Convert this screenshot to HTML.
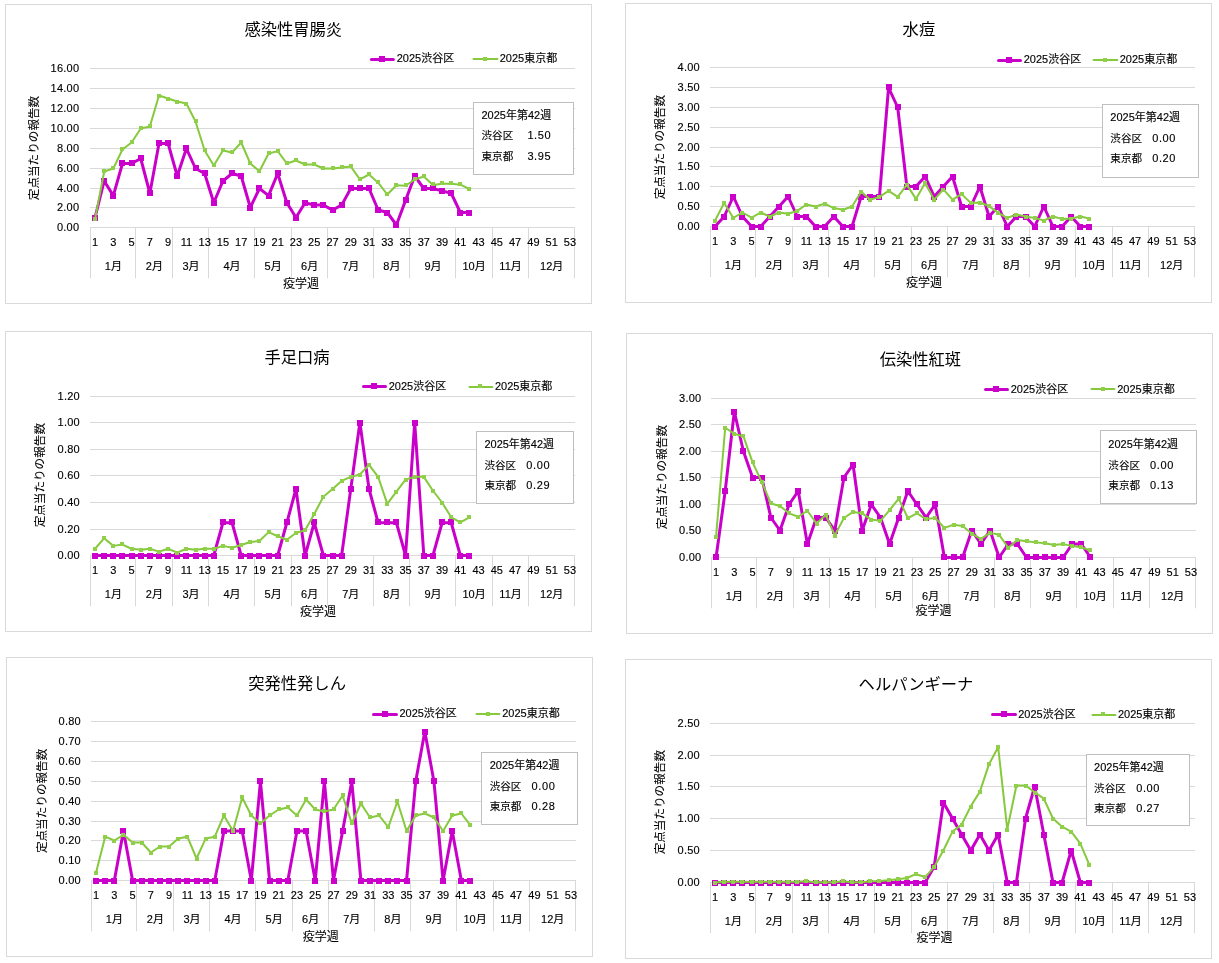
<!DOCTYPE html>
<html lang="ja">
<head>
<meta charset="utf-8">
<title>感染症発生動向 定点当たりの報告数</title>
<style>
html,body{margin:0;padding:0;background:#fff;}
body{width:1219px;height:963px;overflow:hidden;}
svg{display:block;}
svg text{font-family:"Liberation Sans", "Noto Sans CJK JP", sans-serif;fill:#000000;stroke:#000000;stroke-width:0.14px;stroke-linejoin:round;}
svg text.t{stroke:none;}
svg text.n{letter-spacing:0.25px;}
svg text.v{letter-spacing:0.6px;}
svg text.a{stroke-width:0.08px;}
</style>
</head>
<body>
<svg width="1219" height="963" viewBox="0 0 1219 963">
<rect x="0" y="0" width="1219" height="963" fill="#ffffff"/>
<g><rect x="5.5" y="4.5" width="586" height="299" fill="#fff" stroke="#D9D9D9" stroke-width="1"/>
<line x1="90" y1="227.5" x2="575" y2="227.5" stroke="#D9D9D9" stroke-width="1"/>
<text x="79.3" y="231" text-anchor="end" font-size="11.0" class="n">0.00</text>
<line x1="90" y1="207.5" x2="575" y2="207.5" stroke="#D9D9D9" stroke-width="1"/>
<text x="79.3" y="211" text-anchor="end" font-size="11.0" class="n">2.00</text>
<line x1="90" y1="188.5" x2="575" y2="188.5" stroke="#D9D9D9" stroke-width="1"/>
<text x="79.3" y="192" text-anchor="end" font-size="11.0" class="n">4.00</text>
<line x1="90" y1="168.5" x2="575" y2="168.5" stroke="#D9D9D9" stroke-width="1"/>
<text x="79.3" y="172" text-anchor="end" font-size="11.0" class="n">6.00</text>
<line x1="90" y1="148.5" x2="575" y2="148.5" stroke="#D9D9D9" stroke-width="1"/>
<text x="79.3" y="152" text-anchor="end" font-size="11.0" class="n">8.00</text>
<line x1="90" y1="128.5" x2="575" y2="128.5" stroke="#D9D9D9" stroke-width="1"/>
<text x="79.3" y="132" text-anchor="end" font-size="11.0" class="n">10.00</text>
<line x1="90" y1="108.5" x2="575" y2="108.5" stroke="#D9D9D9" stroke-width="1"/>
<text x="79.3" y="112" text-anchor="end" font-size="11.0" class="n">12.00</text>
<line x1="90" y1="88.5" x2="575" y2="88.5" stroke="#D9D9D9" stroke-width="1"/>
<text x="79.3" y="92" text-anchor="end" font-size="11.0" class="n">14.00</text>
<line x1="90" y1="68.5" x2="575" y2="68.5" stroke="#D9D9D9" stroke-width="1"/>
<text x="79.3" y="72" text-anchor="end" font-size="11.0" class="n">16.00</text>
<line x1="90.5" y1="227.5" x2="90.5" y2="278.3" stroke="#D9D9D9" stroke-width="1"/>
<line x1="135.5" y1="227.5" x2="135.5" y2="278.3" stroke="#D9D9D9" stroke-width="1"/>
<line x1="172.5" y1="227.5" x2="172.5" y2="278.3" stroke="#D9D9D9" stroke-width="1"/>
<line x1="208.5" y1="227.5" x2="208.5" y2="278.3" stroke="#D9D9D9" stroke-width="1"/>
<line x1="254.5" y1="227.5" x2="254.5" y2="278.3" stroke="#D9D9D9" stroke-width="1"/>
<line x1="291.5" y1="227.5" x2="291.5" y2="278.3" stroke="#D9D9D9" stroke-width="1"/>
<line x1="327.5" y1="227.5" x2="327.5" y2="278.3" stroke="#D9D9D9" stroke-width="1"/>
<line x1="373.5" y1="227.5" x2="373.5" y2="278.3" stroke="#D9D9D9" stroke-width="1"/>
<line x1="409.5" y1="227.5" x2="409.5" y2="278.3" stroke="#D9D9D9" stroke-width="1"/>
<line x1="455.5" y1="227.5" x2="455.5" y2="278.3" stroke="#D9D9D9" stroke-width="1"/>
<line x1="492.5" y1="227.5" x2="492.5" y2="278.3" stroke="#D9D9D9" stroke-width="1"/>
<line x1="528.5" y1="227.5" x2="528.5" y2="278.3" stroke="#D9D9D9" stroke-width="1"/>
<line x1="574.5" y1="227.5" x2="574.5" y2="278.3" stroke="#D9D9D9" stroke-width="1"/>
<text x="95.07" y="246.1" text-anchor="middle" font-size="11.0">1</text>
<text x="113.33" y="246.1" text-anchor="middle" font-size="11.0">3</text>
<text x="131.59" y="246.1" text-anchor="middle" font-size="11.0">5</text>
<text x="149.86" y="246.1" text-anchor="middle" font-size="11.0">7</text>
<text x="168.12" y="246.1" text-anchor="middle" font-size="11.0">9</text>
<text x="186.39" y="246.1" text-anchor="middle" font-size="11.0">11</text>
<text x="204.65" y="246.1" text-anchor="middle" font-size="11.0">13</text>
<text x="222.92" y="246.1" text-anchor="middle" font-size="11.0">15</text>
<text x="241.18" y="246.1" text-anchor="middle" font-size="11.0">17</text>
<text x="259.44" y="246.1" text-anchor="middle" font-size="11.0">19</text>
<text x="277.71" y="246.1" text-anchor="middle" font-size="11.0">21</text>
<text x="295.97" y="246.1" text-anchor="middle" font-size="11.0">23</text>
<text x="314.24" y="246.1" text-anchor="middle" font-size="11.0">25</text>
<text x="332.5" y="246.1" text-anchor="middle" font-size="11.0">27</text>
<text x="350.76" y="246.1" text-anchor="middle" font-size="11.0">29</text>
<text x="369.03" y="246.1" text-anchor="middle" font-size="11.0">31</text>
<text x="387.29" y="246.1" text-anchor="middle" font-size="11.0">33</text>
<text x="405.56" y="246.1" text-anchor="middle" font-size="11.0">35</text>
<text x="423.82" y="246.1" text-anchor="middle" font-size="11.0">37</text>
<text x="442.08" y="246.1" text-anchor="middle" font-size="11.0">39</text>
<text x="460.35" y="246.1" text-anchor="middle" font-size="11.0">41</text>
<text x="478.61" y="246.1" text-anchor="middle" font-size="11.0">43</text>
<text x="496.88" y="246.1" text-anchor="middle" font-size="11.0">45</text>
<text x="515.14" y="246.1" text-anchor="middle" font-size="11.0">47</text>
<text x="533.41" y="246.1" text-anchor="middle" font-size="11.0">49</text>
<text x="551.67" y="246.1" text-anchor="middle" font-size="11.0">51</text>
<text x="569.93" y="246.1" text-anchor="middle" font-size="11.0">53</text>
<text x="113.33" y="270.3" text-anchor="middle" font-size="11.0">1月</text>
<text x="154.42" y="270.3" text-anchor="middle" font-size="11.0">2月</text>
<text x="190.95" y="270.3" text-anchor="middle" font-size="11.0">3月</text>
<text x="232.05" y="270.3" text-anchor="middle" font-size="11.0">4月</text>
<text x="273.14" y="270.3" text-anchor="middle" font-size="11.0">5月</text>
<text x="309.67" y="270.3" text-anchor="middle" font-size="11.0">6月</text>
<text x="350.76" y="270.3" text-anchor="middle" font-size="11.0">7月</text>
<text x="391.86" y="270.3" text-anchor="middle" font-size="11.0">8月</text>
<text x="432.95" y="270.3" text-anchor="middle" font-size="11.0">9月</text>
<text x="474.05" y="270.3" text-anchor="middle" font-size="11.0">10月</text>
<text x="510.58" y="270.3" text-anchor="middle" font-size="11.0">11月</text>
<text x="551.67" y="270.3" text-anchor="middle" font-size="11.0">12月</text>
<text x="301" y="288.4" text-anchor="middle" font-size="12.0" class="a">疫学週</text>
<text transform="translate(38.2,148) rotate(-90)" text-anchor="middle" font-size="11.6" class="a">定点当たりの報告数</text>
<text x="293.3" y="34.8" text-anchor="middle" font-size="16.3" class="t">感染性胃腸炎</text>
<polyline fill="none" stroke="#C900C9" stroke-width="3" stroke-linejoin="round" stroke-linecap="round" points="95.07,217.5 104.2,181 113.33,195.62 122.46,163.5 131.59,163.5 140.73,158.5 149.86,193.25 158.99,143.5 168.12,143.5 177.25,176 186.39,148.5 195.52,168.5 204.65,173.5 213.78,202.75 222.92,181 232.05,173.5 241.18,176 250.31,207.5 259.44,188.5 268.58,195.62 277.71,173.5 286.84,202.75 295.97,217.5 305.1,202.75 314.24,205.12 323.37,205.12 332.5,210 341.63,205.12 350.76,188.5 359.9,188.5 369.03,188.5 378.16,210 387.29,212.5 396.42,225 405.56,200.38 414.69,176 423.82,188.5 432.95,188.5 442.08,190.88 451.22,193.25 460.35,212.5 469.48,212.5"/><g fill="#CC00CC"><rect x="92" y="215" width="6" height="6"/><rect x="101" y="178" width="6" height="6"/><rect x="110" y="193" width="6" height="6"/><rect x="119" y="160" width="6" height="6"/><rect x="129" y="160" width="6" height="6"/><rect x="138" y="155" width="6" height="6"/><rect x="147" y="190" width="6" height="6"/><rect x="156" y="140" width="6" height="6"/><rect x="165" y="140" width="6" height="6"/><rect x="174" y="173" width="6" height="6"/><rect x="183" y="145" width="6" height="6"/><rect x="193" y="165" width="6" height="6"/><rect x="202" y="170" width="6" height="6"/><rect x="211" y="200" width="6" height="6"/><rect x="220" y="178" width="6" height="6"/><rect x="229" y="170" width="6" height="6"/><rect x="238" y="173" width="6" height="6"/><rect x="247" y="205" width="6" height="6"/><rect x="256" y="185" width="6" height="6"/><rect x="266" y="193" width="6" height="6"/><rect x="275" y="170" width="6" height="6"/><rect x="284" y="200" width="6" height="6"/><rect x="293" y="215" width="6" height="6"/><rect x="302" y="200" width="6" height="6"/><rect x="311" y="202" width="6" height="6"/><rect x="320" y="202" width="6" height="6"/><rect x="330" y="207" width="6" height="6"/><rect x="339" y="202" width="6" height="6"/><rect x="348" y="185" width="6" height="6"/><rect x="357" y="185" width="6" height="6"/><rect x="366" y="185" width="6" height="6"/><rect x="375" y="207" width="6" height="6"/><rect x="384" y="210" width="6" height="6"/><rect x="393" y="222" width="6" height="6"/><rect x="403" y="197" width="6" height="6"/><rect x="412" y="173" width="6" height="6"/><rect x="421" y="185" width="6" height="6"/><rect x="430" y="185" width="6" height="6"/><rect x="439" y="188" width="6" height="6"/><rect x="448" y="190" width="6" height="6"/><rect x="457" y="210" width="6" height="6"/><rect x="466" y="210" width="6" height="6"/></g>
<polyline fill="none" stroke="#86C93D" stroke-width="2" stroke-linejoin="round" stroke-linecap="round" points="95.07,219 104.2,171.5 113.33,168.5 122.46,149.5 131.59,142.5 140.73,128.5 149.86,126.5 158.99,95.5 168.12,98.5 177.25,101.5 186.39,103.5 195.52,121.5 204.65,150.5 213.78,165.5 222.92,150.5 232.05,152.5 241.18,142.5 250.31,163.5 259.44,171.3 268.58,153.5 277.71,151.1 286.84,163.5 295.97,160.5 305.1,164.5 314.24,164.5 323.37,168.5 332.5,168.5 341.63,167.5 350.76,166.5 359.9,179.3 369.03,174.5 378.16,182.7 387.29,194.49 396.42,185.3 405.56,185.8 414.69,179.5 423.82,176.5 432.95,184.9 442.08,183.7 451.22,183.7 460.35,184.7 469.48,188.97"/><g fill="#8FCF4A"><rect x="93" y="217" width="4" height="4"/><rect x="102" y="169" width="4" height="4"/><rect x="111" y="166" width="4" height="4"/><rect x="120" y="147" width="4" height="4"/><rect x="130" y="140" width="4" height="4"/><rect x="139" y="126" width="4" height="4"/><rect x="148" y="124" width="4" height="4"/><rect x="157" y="94" width="4" height="4"/><rect x="166" y="97" width="4" height="4"/><rect x="175" y="100" width="4" height="4"/><rect x="184" y="102" width="4" height="4"/><rect x="194" y="119" width="4" height="4"/><rect x="203" y="148" width="4" height="4"/><rect x="212" y="163" width="4" height="4"/><rect x="221" y="148" width="4" height="4"/><rect x="230" y="150" width="4" height="4"/><rect x="239" y="140" width="4" height="4"/><rect x="248" y="161" width="4" height="4"/><rect x="257" y="169" width="4" height="4"/><rect x="267" y="151" width="4" height="4"/><rect x="276" y="149" width="4" height="4"/><rect x="285" y="161" width="4" height="4"/><rect x="294" y="158" width="4" height="4"/><rect x="303" y="162" width="4" height="4"/><rect x="312" y="162" width="4" height="4"/><rect x="321" y="166" width="4" height="4"/><rect x="331" y="166" width="4" height="4"/><rect x="340" y="165" width="4" height="4"/><rect x="349" y="164" width="4" height="4"/><rect x="358" y="177" width="4" height="4"/><rect x="367" y="172" width="4" height="4"/><rect x="376" y="180" width="4" height="4"/><rect x="385" y="192" width="4" height="4"/><rect x="394" y="183" width="4" height="4"/><rect x="404" y="183" width="4" height="4"/><rect x="413" y="177" width="4" height="4"/><rect x="422" y="174" width="4" height="4"/><rect x="431" y="182" width="4" height="4"/><rect x="440" y="181" width="4" height="4"/><rect x="449" y="181" width="4" height="4"/><rect x="458" y="182" width="4" height="4"/><rect x="467" y="187" width="4" height="4"/></g>
<line x1="371.4" y1="59.5" x2="393.4" y2="59.5" stroke="#C900C9" stroke-width="3" stroke-linecap="round"/>
<rect x="379" y="56" width="6" height="6" fill="#CC00CC"/>
<text x="396.7" y="62" font-size="11.0">2025渋谷区</text>
<line x1="473.5" y1="59" x2="497.4" y2="59" stroke="#86C93D" stroke-width="2" stroke-linecap="round"/>
<rect x="483" y="57" width="4" height="4" fill="#8FCF4A"/>
<text x="499.7" y="62" font-size="11.0">2025東京都</text>
<rect x="473.5" y="102.5" width="100" height="72" fill="#fff" stroke="#BFBFBF" stroke-width="1"/>
<text x="481.5" y="119" font-size="11.0">2025年第42週</text>
<text x="481.5" y="139.3" font-size="10.6">渋谷区</text>
<text x="527.4" y="139.3" font-size="11.0" class="v">1.50</text>
<text x="481.5" y="159.8" font-size="10.6">東京都</text>
<text x="527.4" y="159.8" font-size="11.0" class="v">3.95</text></g>
<g><rect x="625.5" y="3.5" width="586" height="299" fill="#fff" stroke="#D9D9D9" stroke-width="1"/>
<line x1="710" y1="226.5" x2="1195" y2="226.5" stroke="#D9D9D9" stroke-width="1"/>
<text x="700" y="230" text-anchor="end" font-size="11.0" class="n">0.00</text>
<line x1="710" y1="206.5" x2="1195" y2="206.5" stroke="#D9D9D9" stroke-width="1"/>
<text x="700" y="210" text-anchor="end" font-size="11.0" class="n">0.50</text>
<line x1="710" y1="186.5" x2="1195" y2="186.5" stroke="#D9D9D9" stroke-width="1"/>
<text x="700" y="190" text-anchor="end" font-size="11.0" class="n">1.00</text>
<line x1="710" y1="166.5" x2="1195" y2="166.5" stroke="#D9D9D9" stroke-width="1"/>
<text x="700" y="170" text-anchor="end" font-size="11.0" class="n">1.50</text>
<line x1="710" y1="147.5" x2="1195" y2="147.5" stroke="#D9D9D9" stroke-width="1"/>
<text x="700" y="151" text-anchor="end" font-size="11.0" class="n">2.00</text>
<line x1="710" y1="127.5" x2="1195" y2="127.5" stroke="#D9D9D9" stroke-width="1"/>
<text x="700" y="131" text-anchor="end" font-size="11.0" class="n">2.50</text>
<line x1="710" y1="107.5" x2="1195" y2="107.5" stroke="#D9D9D9" stroke-width="1"/>
<text x="700" y="111" text-anchor="end" font-size="11.0" class="n">3.00</text>
<line x1="710" y1="87.5" x2="1195" y2="87.5" stroke="#D9D9D9" stroke-width="1"/>
<text x="700" y="91" text-anchor="end" font-size="11.0" class="n">3.50</text>
<line x1="710" y1="67.5" x2="1195" y2="67.5" stroke="#D9D9D9" stroke-width="1"/>
<text x="700" y="71" text-anchor="end" font-size="11.0" class="n">4.00</text>
<line x1="710.5" y1="226.5" x2="710.5" y2="277.3" stroke="#D9D9D9" stroke-width="1"/>
<line x1="755.5" y1="226.5" x2="755.5" y2="277.3" stroke="#D9D9D9" stroke-width="1"/>
<line x1="792.5" y1="226.5" x2="792.5" y2="277.3" stroke="#D9D9D9" stroke-width="1"/>
<line x1="828.5" y1="226.5" x2="828.5" y2="277.3" stroke="#D9D9D9" stroke-width="1"/>
<line x1="874.5" y1="226.5" x2="874.5" y2="277.3" stroke="#D9D9D9" stroke-width="1"/>
<line x1="911.5" y1="226.5" x2="911.5" y2="277.3" stroke="#D9D9D9" stroke-width="1"/>
<line x1="947.5" y1="226.5" x2="947.5" y2="277.3" stroke="#D9D9D9" stroke-width="1"/>
<line x1="993.5" y1="226.5" x2="993.5" y2="277.3" stroke="#D9D9D9" stroke-width="1"/>
<line x1="1029.5" y1="226.5" x2="1029.5" y2="277.3" stroke="#D9D9D9" stroke-width="1"/>
<line x1="1075.5" y1="226.5" x2="1075.5" y2="277.3" stroke="#D9D9D9" stroke-width="1"/>
<line x1="1112.5" y1="226.5" x2="1112.5" y2="277.3" stroke="#D9D9D9" stroke-width="1"/>
<line x1="1148.5" y1="226.5" x2="1148.5" y2="277.3" stroke="#D9D9D9" stroke-width="1"/>
<line x1="1194.5" y1="226.5" x2="1194.5" y2="277.3" stroke="#D9D9D9" stroke-width="1"/>
<text x="715.07" y="245.1" text-anchor="middle" font-size="11.0">1</text>
<text x="733.33" y="245.1" text-anchor="middle" font-size="11.0">3</text>
<text x="751.59" y="245.1" text-anchor="middle" font-size="11.0">5</text>
<text x="769.86" y="245.1" text-anchor="middle" font-size="11.0">7</text>
<text x="788.12" y="245.1" text-anchor="middle" font-size="11.0">9</text>
<text x="806.39" y="245.1" text-anchor="middle" font-size="11.0">11</text>
<text x="824.65" y="245.1" text-anchor="middle" font-size="11.0">13</text>
<text x="842.92" y="245.1" text-anchor="middle" font-size="11.0">15</text>
<text x="861.18" y="245.1" text-anchor="middle" font-size="11.0">17</text>
<text x="879.44" y="245.1" text-anchor="middle" font-size="11.0">19</text>
<text x="897.71" y="245.1" text-anchor="middle" font-size="11.0">21</text>
<text x="915.97" y="245.1" text-anchor="middle" font-size="11.0">23</text>
<text x="934.24" y="245.1" text-anchor="middle" font-size="11.0">25</text>
<text x="952.5" y="245.1" text-anchor="middle" font-size="11.0">27</text>
<text x="970.76" y="245.1" text-anchor="middle" font-size="11.0">29</text>
<text x="989.03" y="245.1" text-anchor="middle" font-size="11.0">31</text>
<text x="1007.29" y="245.1" text-anchor="middle" font-size="11.0">33</text>
<text x="1025.56" y="245.1" text-anchor="middle" font-size="11.0">35</text>
<text x="1043.82" y="245.1" text-anchor="middle" font-size="11.0">37</text>
<text x="1062.08" y="245.1" text-anchor="middle" font-size="11.0">39</text>
<text x="1080.35" y="245.1" text-anchor="middle" font-size="11.0">41</text>
<text x="1098.61" y="245.1" text-anchor="middle" font-size="11.0">43</text>
<text x="1116.88" y="245.1" text-anchor="middle" font-size="11.0">45</text>
<text x="1135.14" y="245.1" text-anchor="middle" font-size="11.0">47</text>
<text x="1153.41" y="245.1" text-anchor="middle" font-size="11.0">49</text>
<text x="1171.67" y="245.1" text-anchor="middle" font-size="11.0">51</text>
<text x="1189.93" y="245.1" text-anchor="middle" font-size="11.0">53</text>
<text x="733.33" y="269.3" text-anchor="middle" font-size="11.0">1月</text>
<text x="774.42" y="269.3" text-anchor="middle" font-size="11.0">2月</text>
<text x="810.95" y="269.3" text-anchor="middle" font-size="11.0">3月</text>
<text x="852.05" y="269.3" text-anchor="middle" font-size="11.0">4月</text>
<text x="893.14" y="269.3" text-anchor="middle" font-size="11.0">5月</text>
<text x="929.67" y="269.3" text-anchor="middle" font-size="11.0">6月</text>
<text x="970.76" y="269.3" text-anchor="middle" font-size="11.0">7月</text>
<text x="1011.86" y="269.3" text-anchor="middle" font-size="11.0">8月</text>
<text x="1052.95" y="269.3" text-anchor="middle" font-size="11.0">9月</text>
<text x="1094.05" y="269.3" text-anchor="middle" font-size="11.0">10月</text>
<text x="1130.58" y="269.3" text-anchor="middle" font-size="11.0">11月</text>
<text x="1171.67" y="269.3" text-anchor="middle" font-size="11.0">12月</text>
<text x="924" y="286.8" text-anchor="middle" font-size="12.0" class="a">疫学週</text>
<text transform="translate(664.2,147.2) rotate(-90)" text-anchor="middle" font-size="11.6" class="a">定点当たりの報告数</text>
<text x="918.9" y="35.1" text-anchor="middle" font-size="16.3" class="t">水痘</text>
<polyline fill="none" stroke="#C900C9" stroke-width="3" stroke-linejoin="round" stroke-linecap="round" points="715.07,226.5 724.2,216.5 733.33,196.5 742.46,216.5 751.59,226.5 760.73,226.5 769.86,216.5 778.99,206.5 788.12,196.5 797.25,216.5 806.39,216.5 815.52,226.5 824.65,226.5 833.78,216.5 842.92,226.5 852.05,226.5 861.18,196.5 870.31,196.5 879.44,196.5 888.58,87.5 897.71,107.5 906.84,186.5 915.97,186.5 925.1,176.5 934.24,196.5 943.37,186.5 952.5,176.5 961.63,206.5 970.76,206.5 979.9,186.5 989.03,216.5 998.16,206.5 1007.29,226.5 1016.42,216.5 1025.56,216.5 1034.69,226.5 1043.82,206.5 1052.95,226.5 1062.08,226.5 1071.22,216.5 1080.35,226.5 1089.48,226.5"/><g fill="#CC00CC"><rect x="712" y="224" width="6" height="6"/><rect x="721" y="214" width="6" height="6"/><rect x="730" y="194" width="6" height="6"/><rect x="739" y="214" width="6" height="6"/><rect x="749" y="224" width="6" height="6"/><rect x="758" y="224" width="6" height="6"/><rect x="767" y="214" width="6" height="6"/><rect x="776" y="204" width="6" height="6"/><rect x="785" y="194" width="6" height="6"/><rect x="794" y="214" width="6" height="6"/><rect x="803" y="214" width="6" height="6"/><rect x="813" y="224" width="6" height="6"/><rect x="822" y="224" width="6" height="6"/><rect x="831" y="214" width="6" height="6"/><rect x="840" y="224" width="6" height="6"/><rect x="849" y="224" width="6" height="6"/><rect x="858" y="194" width="6" height="6"/><rect x="867" y="194" width="6" height="6"/><rect x="876" y="194" width="6" height="6"/><rect x="886" y="84" width="6" height="6"/><rect x="895" y="104" width="6" height="6"/><rect x="904" y="184" width="6" height="6"/><rect x="913" y="184" width="6" height="6"/><rect x="922" y="174" width="6" height="6"/><rect x="931" y="194" width="6" height="6"/><rect x="940" y="184" width="6" height="6"/><rect x="950" y="174" width="6" height="6"/><rect x="959" y="204" width="6" height="6"/><rect x="968" y="204" width="6" height="6"/><rect x="977" y="184" width="6" height="6"/><rect x="986" y="214" width="6" height="6"/><rect x="995" y="204" width="6" height="6"/><rect x="1004" y="224" width="6" height="6"/><rect x="1013" y="214" width="6" height="6"/><rect x="1023" y="214" width="6" height="6"/><rect x="1032" y="224" width="6" height="6"/><rect x="1041" y="204" width="6" height="6"/><rect x="1050" y="224" width="6" height="6"/><rect x="1059" y="224" width="6" height="6"/><rect x="1068" y="214" width="6" height="6"/><rect x="1077" y="224" width="6" height="6"/><rect x="1086" y="224" width="6" height="6"/></g>
<polyline fill="none" stroke="#86C93D" stroke-width="2" stroke-linejoin="round" stroke-linecap="round" points="715.07,220.5 724.2,202.9 733.33,217.9 742.46,212.5 751.59,217.7 760.73,212.5 769.86,216.5 778.99,212.5 788.12,213.7 797.25,210.9 806.39,204.5 815.52,206.5 824.65,203.7 833.78,208.1 842.92,209.7 852.05,206.5 861.18,191.7 870.31,199.7 879.44,196.9 888.58,190.9 897.71,196.9 906.84,184.9 915.97,198.9 925.1,182.9 934.24,199.7 943.37,189.3 952.5,199.7 961.63,194.1 970.76,202.9 979.9,202.5 989.03,206.1 998.16,212.9 1007.29,217.9 1016.42,214.5 1025.56,216.5 1034.69,217.9 1043.82,220.5 1052.95,216.5 1062.08,218.9 1071.22,218.5 1080.35,216.5 1089.48,218.5"/><g fill="#8FCF4A"><rect x="713" y="219" width="4" height="4"/><rect x="722" y="201" width="4" height="4"/><rect x="731" y="216" width="4" height="4"/><rect x="740" y="211" width="4" height="4"/><rect x="750" y="216" width="4" height="4"/><rect x="759" y="211" width="4" height="4"/><rect x="768" y="215" width="4" height="4"/><rect x="777" y="211" width="4" height="4"/><rect x="786" y="212" width="4" height="4"/><rect x="795" y="209" width="4" height="4"/><rect x="804" y="203" width="4" height="4"/><rect x="814" y="205" width="4" height="4"/><rect x="823" y="202" width="4" height="4"/><rect x="832" y="206" width="4" height="4"/><rect x="841" y="208" width="4" height="4"/><rect x="850" y="205" width="4" height="4"/><rect x="859" y="190" width="4" height="4"/><rect x="868" y="198" width="4" height="4"/><rect x="877" y="195" width="4" height="4"/><rect x="887" y="189" width="4" height="4"/><rect x="896" y="195" width="4" height="4"/><rect x="905" y="183" width="4" height="4"/><rect x="914" y="197" width="4" height="4"/><rect x="923" y="181" width="4" height="4"/><rect x="932" y="198" width="4" height="4"/><rect x="941" y="188" width="4" height="4"/><rect x="951" y="198" width="4" height="4"/><rect x="960" y="192" width="4" height="4"/><rect x="969" y="201" width="4" height="4"/><rect x="978" y="201" width="4" height="4"/><rect x="987" y="204" width="4" height="4"/><rect x="996" y="211" width="4" height="4"/><rect x="1005" y="216" width="4" height="4"/><rect x="1014" y="213" width="4" height="4"/><rect x="1024" y="215" width="4" height="4"/><rect x="1033" y="216" width="4" height="4"/><rect x="1042" y="219" width="4" height="4"/><rect x="1051" y="215" width="4" height="4"/><rect x="1060" y="217" width="4" height="4"/><rect x="1069" y="217" width="4" height="4"/><rect x="1078" y="215" width="4" height="4"/><rect x="1087" y="217" width="4" height="4"/></g>
<line x1="998.5" y1="60.5" x2="1020.5" y2="60.5" stroke="#C900C9" stroke-width="3" stroke-linecap="round"/>
<rect x="1006" y="57" width="6" height="6" fill="#CC00CC"/>
<text x="1023.7" y="63" font-size="11.0">2025渋谷区</text>
<line x1="1093.5" y1="60" x2="1117.4" y2="60" stroke="#86C93D" stroke-width="2" stroke-linecap="round"/>
<rect x="1103" y="58" width="4" height="4" fill="#8FCF4A"/>
<text x="1119.7" y="63" font-size="11.0">2025東京都</text>
<rect x="1102.5" y="104.5" width="96" height="73" fill="#fff" stroke="#BFBFBF" stroke-width="1"/>
<text x="1110.3" y="120.9" font-size="11.0">2025年第42週</text>
<text x="1110.3" y="142.1" font-size="10.6">渋谷区</text>
<text x="1152.2" y="142.1" font-size="11.0" class="v">0.00</text>
<text x="1110.3" y="162.1" font-size="10.6">東京都</text>
<text x="1152.2" y="162.1" font-size="11.0" class="v">0.20</text></g>
<g><rect x="5.5" y="331.5" width="586" height="300" fill="#fff" stroke="#D9D9D9" stroke-width="1"/>
<line x1="90" y1="555.5" x2="575" y2="555.5" stroke="#D9D9D9" stroke-width="1"/>
<text x="80" y="559" text-anchor="end" font-size="11.0" class="n">0.00</text>
<line x1="90" y1="529.5" x2="575" y2="529.5" stroke="#D9D9D9" stroke-width="1"/>
<text x="80" y="533" text-anchor="end" font-size="11.0" class="n">0.20</text>
<line x1="90" y1="502.5" x2="575" y2="502.5" stroke="#D9D9D9" stroke-width="1"/>
<text x="80" y="506" text-anchor="end" font-size="11.0" class="n">0.40</text>
<line x1="90" y1="475.5" x2="575" y2="475.5" stroke="#D9D9D9" stroke-width="1"/>
<text x="80" y="479" text-anchor="end" font-size="11.0" class="n">0.60</text>
<line x1="90" y1="449.5" x2="575" y2="449.5" stroke="#D9D9D9" stroke-width="1"/>
<text x="80" y="453" text-anchor="end" font-size="11.0" class="n">0.80</text>
<line x1="90" y1="422.5" x2="575" y2="422.5" stroke="#D9D9D9" stroke-width="1"/>
<text x="80" y="426" text-anchor="end" font-size="11.0" class="n">1.00</text>
<line x1="90" y1="396.5" x2="575" y2="396.5" stroke="#D9D9D9" stroke-width="1"/>
<text x="80" y="400" text-anchor="end" font-size="11.0" class="n">1.20</text>
<line x1="90.5" y1="555.5" x2="90.5" y2="606.3" stroke="#D9D9D9" stroke-width="1"/>
<line x1="135.5" y1="555.5" x2="135.5" y2="606.3" stroke="#D9D9D9" stroke-width="1"/>
<line x1="172.5" y1="555.5" x2="172.5" y2="606.3" stroke="#D9D9D9" stroke-width="1"/>
<line x1="208.5" y1="555.5" x2="208.5" y2="606.3" stroke="#D9D9D9" stroke-width="1"/>
<line x1="254.5" y1="555.5" x2="254.5" y2="606.3" stroke="#D9D9D9" stroke-width="1"/>
<line x1="291.5" y1="555.5" x2="291.5" y2="606.3" stroke="#D9D9D9" stroke-width="1"/>
<line x1="327.5" y1="555.5" x2="327.5" y2="606.3" stroke="#D9D9D9" stroke-width="1"/>
<line x1="373.5" y1="555.5" x2="373.5" y2="606.3" stroke="#D9D9D9" stroke-width="1"/>
<line x1="409.5" y1="555.5" x2="409.5" y2="606.3" stroke="#D9D9D9" stroke-width="1"/>
<line x1="455.5" y1="555.5" x2="455.5" y2="606.3" stroke="#D9D9D9" stroke-width="1"/>
<line x1="492.5" y1="555.5" x2="492.5" y2="606.3" stroke="#D9D9D9" stroke-width="1"/>
<line x1="528.5" y1="555.5" x2="528.5" y2="606.3" stroke="#D9D9D9" stroke-width="1"/>
<line x1="574.5" y1="555.5" x2="574.5" y2="606.3" stroke="#D9D9D9" stroke-width="1"/>
<text x="95.07" y="574.1" text-anchor="middle" font-size="11.0">1</text>
<text x="113.33" y="574.1" text-anchor="middle" font-size="11.0">3</text>
<text x="131.59" y="574.1" text-anchor="middle" font-size="11.0">5</text>
<text x="149.86" y="574.1" text-anchor="middle" font-size="11.0">7</text>
<text x="168.12" y="574.1" text-anchor="middle" font-size="11.0">9</text>
<text x="186.39" y="574.1" text-anchor="middle" font-size="11.0">11</text>
<text x="204.65" y="574.1" text-anchor="middle" font-size="11.0">13</text>
<text x="222.92" y="574.1" text-anchor="middle" font-size="11.0">15</text>
<text x="241.18" y="574.1" text-anchor="middle" font-size="11.0">17</text>
<text x="259.44" y="574.1" text-anchor="middle" font-size="11.0">19</text>
<text x="277.71" y="574.1" text-anchor="middle" font-size="11.0">21</text>
<text x="295.97" y="574.1" text-anchor="middle" font-size="11.0">23</text>
<text x="314.24" y="574.1" text-anchor="middle" font-size="11.0">25</text>
<text x="332.5" y="574.1" text-anchor="middle" font-size="11.0">27</text>
<text x="350.76" y="574.1" text-anchor="middle" font-size="11.0">29</text>
<text x="369.03" y="574.1" text-anchor="middle" font-size="11.0">31</text>
<text x="387.29" y="574.1" text-anchor="middle" font-size="11.0">33</text>
<text x="405.56" y="574.1" text-anchor="middle" font-size="11.0">35</text>
<text x="423.82" y="574.1" text-anchor="middle" font-size="11.0">37</text>
<text x="442.08" y="574.1" text-anchor="middle" font-size="11.0">39</text>
<text x="460.35" y="574.1" text-anchor="middle" font-size="11.0">41</text>
<text x="478.61" y="574.1" text-anchor="middle" font-size="11.0">43</text>
<text x="496.88" y="574.1" text-anchor="middle" font-size="11.0">45</text>
<text x="515.14" y="574.1" text-anchor="middle" font-size="11.0">47</text>
<text x="533.41" y="574.1" text-anchor="middle" font-size="11.0">49</text>
<text x="551.67" y="574.1" text-anchor="middle" font-size="11.0">51</text>
<text x="569.93" y="574.1" text-anchor="middle" font-size="11.0">53</text>
<text x="113.33" y="598.3" text-anchor="middle" font-size="11.0">1月</text>
<text x="154.42" y="598.3" text-anchor="middle" font-size="11.0">2月</text>
<text x="190.95" y="598.3" text-anchor="middle" font-size="11.0">3月</text>
<text x="232.05" y="598.3" text-anchor="middle" font-size="11.0">4月</text>
<text x="273.14" y="598.3" text-anchor="middle" font-size="11.0">5月</text>
<text x="309.67" y="598.3" text-anchor="middle" font-size="11.0">6月</text>
<text x="350.76" y="598.3" text-anchor="middle" font-size="11.0">7月</text>
<text x="391.86" y="598.3" text-anchor="middle" font-size="11.0">8月</text>
<text x="432.95" y="598.3" text-anchor="middle" font-size="11.0">9月</text>
<text x="474.05" y="598.3" text-anchor="middle" font-size="11.0">10月</text>
<text x="510.58" y="598.3" text-anchor="middle" font-size="11.0">11月</text>
<text x="551.67" y="598.3" text-anchor="middle" font-size="11.0">12月</text>
<text x="318" y="615.5" text-anchor="middle" font-size="12.0" class="a">疫学週</text>
<text transform="translate(44.2,475.2) rotate(-90)" text-anchor="middle" font-size="11.6" class="a">定点当たりの報告数</text>
<text x="297.1" y="363.1" text-anchor="middle" font-size="16.3" class="t">手足口病</text>
<polyline fill="none" stroke="#C900C9" stroke-width="3" stroke-linejoin="round" stroke-linecap="round" points="95.07,555.5 104.2,555.5 113.33,555.5 122.46,555.5 131.59,555.5 140.73,555.5 149.86,555.5 158.99,555.5 168.12,555.5 177.25,555.5 186.39,555.5 195.52,555.5 204.65,555.5 213.78,555.5 222.92,522.75 232.05,522.75 241.18,555.5 250.31,555.5 259.44,555.5 268.58,555.5 277.71,555.5 286.84,522.75 295.97,489 305.1,555.5 314.24,522.75 323.37,555.5 332.5,555.5 341.63,555.5 350.76,489 359.9,422.5 369.03,489 378.16,522.75 387.29,522.75 396.42,522.75 405.56,555.5 414.69,422.5 423.82,555.5 432.95,555.5 442.08,522.75 451.22,522.75 460.35,555.5 469.48,555.5"/><g fill="#CC00CC"><rect x="92" y="553" width="6" height="6"/><rect x="101" y="553" width="6" height="6"/><rect x="110" y="553" width="6" height="6"/><rect x="119" y="553" width="6" height="6"/><rect x="129" y="553" width="6" height="6"/><rect x="138" y="553" width="6" height="6"/><rect x="147" y="553" width="6" height="6"/><rect x="156" y="553" width="6" height="6"/><rect x="165" y="553" width="6" height="6"/><rect x="174" y="553" width="6" height="6"/><rect x="183" y="553" width="6" height="6"/><rect x="193" y="553" width="6" height="6"/><rect x="202" y="553" width="6" height="6"/><rect x="211" y="553" width="6" height="6"/><rect x="220" y="519" width="6" height="6"/><rect x="229" y="519" width="6" height="6"/><rect x="238" y="553" width="6" height="6"/><rect x="247" y="553" width="6" height="6"/><rect x="256" y="553" width="6" height="6"/><rect x="266" y="553" width="6" height="6"/><rect x="275" y="553" width="6" height="6"/><rect x="284" y="519" width="6" height="6"/><rect x="293" y="486" width="6" height="6"/><rect x="302" y="553" width="6" height="6"/><rect x="311" y="519" width="6" height="6"/><rect x="320" y="553" width="6" height="6"/><rect x="330" y="553" width="6" height="6"/><rect x="339" y="553" width="6" height="6"/><rect x="348" y="486" width="6" height="6"/><rect x="357" y="420" width="6" height="6"/><rect x="366" y="486" width="6" height="6"/><rect x="375" y="519" width="6" height="6"/><rect x="384" y="519" width="6" height="6"/><rect x="393" y="519" width="6" height="6"/><rect x="403" y="553" width="6" height="6"/><rect x="412" y="420" width="6" height="6"/><rect x="421" y="553" width="6" height="6"/><rect x="430" y="553" width="6" height="6"/><rect x="439" y="519" width="6" height="6"/><rect x="448" y="519" width="6" height="6"/><rect x="457" y="553" width="6" height="6"/><rect x="466" y="553" width="6" height="6"/></g>
<polyline fill="none" stroke="#86C93D" stroke-width="2" stroke-linejoin="round" stroke-linecap="round" points="95.07,548.74 104.2,538.21 113.33,545.88 122.46,544.58 131.59,548.74 140.73,549.78 149.86,548.74 158.99,551.6 168.12,548.74 177.25,552.64 186.39,548.74 195.52,549.78 204.65,548.74 213.78,548.74 222.92,545.88 232.05,547.7 241.18,544.97 250.31,541.98 259.44,541.07 268.58,532.1 277.71,536.26 286.84,539.77 295.97,533.01 305.1,530.15 314.24,513.98 323.37,496.69 332.5,489 341.63,480.9 350.76,476.85 359.9,474.46 369.03,464.84 378.16,476.85 387.29,503.85 396.42,491.7 405.56,479.55 414.69,476.85 423.82,476.85 432.95,490.75 442.08,502.5 451.22,517.35 460.35,522.35 469.48,517.35"/><g fill="#8FCF4A"><rect x="93" y="547" width="4" height="4"/><rect x="102" y="536" width="4" height="4"/><rect x="111" y="544" width="4" height="4"/><rect x="120" y="542" width="4" height="4"/><rect x="130" y="547" width="4" height="4"/><rect x="139" y="548" width="4" height="4"/><rect x="148" y="547" width="4" height="4"/><rect x="157" y="550" width="4" height="4"/><rect x="166" y="547" width="4" height="4"/><rect x="175" y="551" width="4" height="4"/><rect x="184" y="547" width="4" height="4"/><rect x="194" y="548" width="4" height="4"/><rect x="203" y="547" width="4" height="4"/><rect x="212" y="547" width="4" height="4"/><rect x="221" y="544" width="4" height="4"/><rect x="230" y="546" width="4" height="4"/><rect x="239" y="543" width="4" height="4"/><rect x="248" y="540" width="4" height="4"/><rect x="257" y="539" width="4" height="4"/><rect x="267" y="530" width="4" height="4"/><rect x="276" y="534" width="4" height="4"/><rect x="285" y="538" width="4" height="4"/><rect x="294" y="531" width="4" height="4"/><rect x="303" y="528" width="4" height="4"/><rect x="312" y="512" width="4" height="4"/><rect x="321" y="495" width="4" height="4"/><rect x="331" y="487" width="4" height="4"/><rect x="340" y="479" width="4" height="4"/><rect x="349" y="475" width="4" height="4"/><rect x="358" y="473" width="4" height="4"/><rect x="367" y="463" width="4" height="4"/><rect x="376" y="475" width="4" height="4"/><rect x="385" y="502" width="4" height="4"/><rect x="394" y="490" width="4" height="4"/><rect x="404" y="478" width="4" height="4"/><rect x="413" y="475" width="4" height="4"/><rect x="422" y="475" width="4" height="4"/><rect x="431" y="489" width="4" height="4"/><rect x="440" y="501" width="4" height="4"/><rect x="449" y="515" width="4" height="4"/><rect x="458" y="520" width="4" height="4"/><rect x="467" y="515" width="4" height="4"/></g>
<line x1="363.5" y1="386.5" x2="385.5" y2="386.5" stroke="#C900C9" stroke-width="3" stroke-linecap="round"/>
<rect x="371" y="383" width="6" height="6" fill="#CC00CC"/>
<text x="388.7" y="390" font-size="11.0">2025渋谷区</text>
<line x1="469.5" y1="387" x2="492.4" y2="387" stroke="#86C93D" stroke-width="2" stroke-linecap="round"/>
<rect x="478" y="384" width="4" height="4" fill="#8FCF4A"/>
<text x="494.9" y="390" font-size="11.0">2025東京都</text>
<rect x="476.5" y="431.5" width="97" height="72" fill="#fff" stroke="#BFBFBF" stroke-width="1"/>
<text x="484.4" y="448" font-size="11.0">2025年第42週</text>
<text x="484.4" y="468.9" font-size="10.6">渋谷区</text>
<text x="526.3" y="468.9" font-size="11.0" class="v">0.00</text>
<text x="484.4" y="489.3" font-size="10.6">東京都</text>
<text x="526.3" y="489.3" font-size="11.0" class="v">0.29</text></g>
<g><rect x="626.5" y="333.5" width="586" height="300" fill="#fff" stroke="#D9D9D9" stroke-width="1"/>
<line x1="711" y1="557.5" x2="1196" y2="557.5" stroke="#D9D9D9" stroke-width="1"/>
<text x="701.5" y="561" text-anchor="end" font-size="11.0" class="n">0.00</text>
<line x1="711" y1="530.5" x2="1196" y2="530.5" stroke="#D9D9D9" stroke-width="1"/>
<text x="701.5" y="534" text-anchor="end" font-size="11.0" class="n">0.50</text>
<line x1="711" y1="504.5" x2="1196" y2="504.5" stroke="#D9D9D9" stroke-width="1"/>
<text x="701.5" y="508" text-anchor="end" font-size="11.0" class="n">1.00</text>
<line x1="711" y1="477.5" x2="1196" y2="477.5" stroke="#D9D9D9" stroke-width="1"/>
<text x="701.5" y="481" text-anchor="end" font-size="11.0" class="n">1.50</text>
<line x1="711" y1="451.5" x2="1196" y2="451.5" stroke="#D9D9D9" stroke-width="1"/>
<text x="701.5" y="455" text-anchor="end" font-size="11.0" class="n">2.00</text>
<line x1="711" y1="424.5" x2="1196" y2="424.5" stroke="#D9D9D9" stroke-width="1"/>
<text x="701.5" y="428" text-anchor="end" font-size="11.0" class="n">2.50</text>
<line x1="711" y1="398.5" x2="1196" y2="398.5" stroke="#D9D9D9" stroke-width="1"/>
<text x="701.5" y="402" text-anchor="end" font-size="11.0" class="n">3.00</text>
<line x1="711.5" y1="557.5" x2="711.5" y2="608.3" stroke="#D9D9D9" stroke-width="1"/>
<line x1="756.5" y1="557.5" x2="756.5" y2="608.3" stroke="#D9D9D9" stroke-width="1"/>
<line x1="793.5" y1="557.5" x2="793.5" y2="608.3" stroke="#D9D9D9" stroke-width="1"/>
<line x1="829.5" y1="557.5" x2="829.5" y2="608.3" stroke="#D9D9D9" stroke-width="1"/>
<line x1="875.5" y1="557.5" x2="875.5" y2="608.3" stroke="#D9D9D9" stroke-width="1"/>
<line x1="912.5" y1="557.5" x2="912.5" y2="608.3" stroke="#D9D9D9" stroke-width="1"/>
<line x1="948.5" y1="557.5" x2="948.5" y2="608.3" stroke="#D9D9D9" stroke-width="1"/>
<line x1="994.5" y1="557.5" x2="994.5" y2="608.3" stroke="#D9D9D9" stroke-width="1"/>
<line x1="1030.5" y1="557.5" x2="1030.5" y2="608.3" stroke="#D9D9D9" stroke-width="1"/>
<line x1="1076.5" y1="557.5" x2="1076.5" y2="608.3" stroke="#D9D9D9" stroke-width="1"/>
<line x1="1113.5" y1="557.5" x2="1113.5" y2="608.3" stroke="#D9D9D9" stroke-width="1"/>
<line x1="1149.5" y1="557.5" x2="1149.5" y2="608.3" stroke="#D9D9D9" stroke-width="1"/>
<line x1="1195.5" y1="557.5" x2="1195.5" y2="608.3" stroke="#D9D9D9" stroke-width="1"/>
<text x="716.07" y="576.1" text-anchor="middle" font-size="11.0">1</text>
<text x="734.33" y="576.1" text-anchor="middle" font-size="11.0">3</text>
<text x="752.59" y="576.1" text-anchor="middle" font-size="11.0">5</text>
<text x="770.86" y="576.1" text-anchor="middle" font-size="11.0">7</text>
<text x="789.12" y="576.1" text-anchor="middle" font-size="11.0">9</text>
<text x="807.39" y="576.1" text-anchor="middle" font-size="11.0">11</text>
<text x="825.65" y="576.1" text-anchor="middle" font-size="11.0">13</text>
<text x="843.92" y="576.1" text-anchor="middle" font-size="11.0">15</text>
<text x="862.18" y="576.1" text-anchor="middle" font-size="11.0">17</text>
<text x="880.44" y="576.1" text-anchor="middle" font-size="11.0">19</text>
<text x="898.71" y="576.1" text-anchor="middle" font-size="11.0">21</text>
<text x="916.97" y="576.1" text-anchor="middle" font-size="11.0">23</text>
<text x="935.24" y="576.1" text-anchor="middle" font-size="11.0">25</text>
<text x="953.5" y="576.1" text-anchor="middle" font-size="11.0">27</text>
<text x="971.76" y="576.1" text-anchor="middle" font-size="11.0">29</text>
<text x="990.03" y="576.1" text-anchor="middle" font-size="11.0">31</text>
<text x="1008.29" y="576.1" text-anchor="middle" font-size="11.0">33</text>
<text x="1026.56" y="576.1" text-anchor="middle" font-size="11.0">35</text>
<text x="1044.82" y="576.1" text-anchor="middle" font-size="11.0">37</text>
<text x="1063.08" y="576.1" text-anchor="middle" font-size="11.0">39</text>
<text x="1081.35" y="576.1" text-anchor="middle" font-size="11.0">41</text>
<text x="1099.61" y="576.1" text-anchor="middle" font-size="11.0">43</text>
<text x="1117.88" y="576.1" text-anchor="middle" font-size="11.0">45</text>
<text x="1136.14" y="576.1" text-anchor="middle" font-size="11.0">47</text>
<text x="1154.41" y="576.1" text-anchor="middle" font-size="11.0">49</text>
<text x="1172.67" y="576.1" text-anchor="middle" font-size="11.0">51</text>
<text x="1190.93" y="576.1" text-anchor="middle" font-size="11.0">53</text>
<text x="734.33" y="600.3" text-anchor="middle" font-size="11.0">1月</text>
<text x="775.42" y="600.3" text-anchor="middle" font-size="11.0">2月</text>
<text x="811.95" y="600.3" text-anchor="middle" font-size="11.0">3月</text>
<text x="853.05" y="600.3" text-anchor="middle" font-size="11.0">4月</text>
<text x="894.14" y="600.3" text-anchor="middle" font-size="11.0">5月</text>
<text x="930.67" y="600.3" text-anchor="middle" font-size="11.0">6月</text>
<text x="971.76" y="600.3" text-anchor="middle" font-size="11.0">7月</text>
<text x="1012.86" y="600.3" text-anchor="middle" font-size="11.0">8月</text>
<text x="1053.95" y="600.3" text-anchor="middle" font-size="11.0">9月</text>
<text x="1095.05" y="600.3" text-anchor="middle" font-size="11.0">10月</text>
<text x="1131.58" y="600.3" text-anchor="middle" font-size="11.0">11月</text>
<text x="1172.67" y="600.3" text-anchor="middle" font-size="11.0">12月</text>
<text x="933.4" y="614.6" text-anchor="middle" font-size="12.0" class="a">疫学週</text>
<text transform="translate(666.2,477.2) rotate(-90)" text-anchor="middle" font-size="11.6" class="a">定点当たりの報告数</text>
<text x="920.4" y="365.1" text-anchor="middle" font-size="16.3" class="t">伝染性紅斑</text>
<polyline fill="none" stroke="#C900C9" stroke-width="3" stroke-linejoin="round" stroke-linecap="round" points="716.07,557.5 725.2,491 734.33,411.5 743.46,451.5 752.59,477.5 761.73,477.5 770.86,517.5 779.99,530.5 789.12,504.5 798.25,491 807.39,544 816.52,517.5 825.65,517.5 834.78,530.5 843.92,477.5 853.05,464.5 862.18,530.5 871.31,504.5 880.44,517.5 889.58,544 898.71,517.5 907.84,491 916.97,504.5 926.1,517.5 935.24,504.5 944.37,557.5 953.5,557.5 962.63,557.5 971.76,530.5 980.9,544 990.03,530.5 999.16,557.5 1008.29,544 1017.42,544 1026.56,557.5 1035.69,557.5 1044.82,557.5 1053.95,557.5 1063.08,557.5 1072.22,544 1081.35,544 1090.48,557.5"/><g fill="#CC00CC"><rect x="713" y="554" width="6" height="6"/><rect x="722" y="488" width="6" height="6"/><rect x="731" y="409" width="6" height="6"/><rect x="740" y="448" width="6" height="6"/><rect x="750" y="475" width="6" height="6"/><rect x="759" y="475" width="6" height="6"/><rect x="768" y="515" width="6" height="6"/><rect x="777" y="528" width="6" height="6"/><rect x="786" y="501" width="6" height="6"/><rect x="795" y="488" width="6" height="6"/><rect x="804" y="541" width="6" height="6"/><rect x="814" y="515" width="6" height="6"/><rect x="823" y="515" width="6" height="6"/><rect x="832" y="528" width="6" height="6"/><rect x="841" y="475" width="6" height="6"/><rect x="850" y="462" width="6" height="6"/><rect x="859" y="528" width="6" height="6"/><rect x="868" y="501" width="6" height="6"/><rect x="877" y="515" width="6" height="6"/><rect x="887" y="541" width="6" height="6"/><rect x="896" y="515" width="6" height="6"/><rect x="905" y="488" width="6" height="6"/><rect x="914" y="501" width="6" height="6"/><rect x="923" y="515" width="6" height="6"/><rect x="932" y="501" width="6" height="6"/><rect x="941" y="554" width="6" height="6"/><rect x="951" y="554" width="6" height="6"/><rect x="960" y="554" width="6" height="6"/><rect x="969" y="528" width="6" height="6"/><rect x="978" y="541" width="6" height="6"/><rect x="987" y="528" width="6" height="6"/><rect x="996" y="554" width="6" height="6"/><rect x="1005" y="541" width="6" height="6"/><rect x="1014" y="541" width="6" height="6"/><rect x="1024" y="554" width="6" height="6"/><rect x="1033" y="554" width="6" height="6"/><rect x="1042" y="554" width="6" height="6"/><rect x="1051" y="554" width="6" height="6"/><rect x="1060" y="554" width="6" height="6"/><rect x="1069" y="541" width="6" height="6"/><rect x="1078" y="541" width="6" height="6"/><rect x="1087" y="554" width="6" height="6"/></g>
<polyline fill="none" stroke="#86C93D" stroke-width="2" stroke-linejoin="round" stroke-linecap="round" points="716.07,536.44 725.2,427.74 734.33,433.68 743.46,436.38 752.59,462.42 761.73,481.82 770.86,503.42 779.99,506.06 789.12,513.34 798.25,516.72 807.39,510.74 816.52,523.48 825.65,514.9 834.78,535.36 843.92,518.02 853.05,511.94 862.18,513.34 871.31,519.58 880.44,520.88 889.58,510.22 898.71,498.56 907.84,518.02 916.97,513.34 926.1,519.06 935.24,518.02 944.37,527.9 953.5,524.78 962.63,526.08 971.76,533.52 980.9,538.92 990.03,532.88 999.16,534.82 1008.29,547.78 1017.42,539.9 1026.56,541.3 1035.69,542.38 1044.82,543.3 1053.95,545.08 1063.08,544.11 1072.22,545.89 1081.35,547.24 1090.48,550.48"/><g fill="#8FCF4A"><rect x="714" y="535" width="4" height="4"/><rect x="723" y="426" width="4" height="4"/><rect x="732" y="432" width="4" height="4"/><rect x="741" y="434" width="4" height="4"/><rect x="751" y="460" width="4" height="4"/><rect x="760" y="480" width="4" height="4"/><rect x="769" y="501" width="4" height="4"/><rect x="778" y="504" width="4" height="4"/><rect x="787" y="511" width="4" height="4"/><rect x="796" y="515" width="4" height="4"/><rect x="805" y="509" width="4" height="4"/><rect x="815" y="522" width="4" height="4"/><rect x="824" y="513" width="4" height="4"/><rect x="833" y="534" width="4" height="4"/><rect x="842" y="516" width="4" height="4"/><rect x="851" y="510" width="4" height="4"/><rect x="860" y="511" width="4" height="4"/><rect x="869" y="518" width="4" height="4"/><rect x="878" y="519" width="4" height="4"/><rect x="888" y="508" width="4" height="4"/><rect x="897" y="496" width="4" height="4"/><rect x="906" y="516" width="4" height="4"/><rect x="915" y="511" width="4" height="4"/><rect x="924" y="517" width="4" height="4"/><rect x="933" y="516" width="4" height="4"/><rect x="942" y="526" width="4" height="4"/><rect x="952" y="523" width="4" height="4"/><rect x="961" y="524" width="4" height="4"/><rect x="970" y="532" width="4" height="4"/><rect x="979" y="537" width="4" height="4"/><rect x="988" y="531" width="4" height="4"/><rect x="997" y="533" width="4" height="4"/><rect x="1006" y="546" width="4" height="4"/><rect x="1015" y="538" width="4" height="4"/><rect x="1025" y="539" width="4" height="4"/><rect x="1034" y="540" width="4" height="4"/><rect x="1043" y="541" width="4" height="4"/><rect x="1052" y="543" width="4" height="4"/><rect x="1061" y="542" width="4" height="4"/><rect x="1070" y="544" width="4" height="4"/><rect x="1079" y="545" width="4" height="4"/><rect x="1088" y="548" width="4" height="4"/></g>
<line x1="985.5" y1="389.5" x2="1007.5" y2="389.5" stroke="#C900C9" stroke-width="3" stroke-linecap="round"/>
<rect x="993" y="386" width="6" height="6" fill="#CC00CC"/>
<text x="1010.7" y="393" font-size="11.0">2025渋谷区</text>
<line x1="1091.5" y1="389" x2="1114.4" y2="389" stroke="#86C93D" stroke-width="2" stroke-linecap="round"/>
<rect x="1101" y="387" width="4" height="4" fill="#8FCF4A"/>
<text x="1117.2" y="393" font-size="11.0">2025東京都</text>
<rect x="1100.5" y="430.5" width="96" height="73" fill="#fff" stroke="#BFBFBF" stroke-width="1"/>
<text x="1108.3" y="447.7" font-size="11.0">2025年第42週</text>
<text x="1108.3" y="468.9" font-size="10.6">渋谷区</text>
<text x="1150.1" y="468.9" font-size="11.0" class="v">0.00</text>
<text x="1108.3" y="489.2" font-size="10.6">東京都</text>
<text x="1150.1" y="489.2" font-size="11.0" class="v">0.13</text></g>
<g><rect x="6.5" y="657.5" width="586" height="299" fill="#fff" stroke="#D9D9D9" stroke-width="1"/>
<line x1="91" y1="880.5" x2="576" y2="880.5" stroke="#D9D9D9" stroke-width="1"/>
<text x="81" y="884" text-anchor="end" font-size="11.0" class="n">0.00</text>
<line x1="91" y1="860.5" x2="576" y2="860.5" stroke="#D9D9D9" stroke-width="1"/>
<text x="81" y="864" text-anchor="end" font-size="11.0" class="n">0.10</text>
<line x1="91" y1="840.5" x2="576" y2="840.5" stroke="#D9D9D9" stroke-width="1"/>
<text x="81" y="844" text-anchor="end" font-size="11.0" class="n">0.20</text>
<line x1="91" y1="821.5" x2="576" y2="821.5" stroke="#D9D9D9" stroke-width="1"/>
<text x="81" y="825" text-anchor="end" font-size="11.0" class="n">0.30</text>
<line x1="91" y1="801.5" x2="576" y2="801.5" stroke="#D9D9D9" stroke-width="1"/>
<text x="81" y="805" text-anchor="end" font-size="11.0" class="n">0.40</text>
<line x1="91" y1="781.5" x2="576" y2="781.5" stroke="#D9D9D9" stroke-width="1"/>
<text x="81" y="785" text-anchor="end" font-size="11.0" class="n">0.50</text>
<line x1="91" y1="761.5" x2="576" y2="761.5" stroke="#D9D9D9" stroke-width="1"/>
<text x="81" y="765" text-anchor="end" font-size="11.0" class="n">0.60</text>
<line x1="91" y1="741.5" x2="576" y2="741.5" stroke="#D9D9D9" stroke-width="1"/>
<text x="81" y="745" text-anchor="end" font-size="11.0" class="n">0.70</text>
<line x1="91" y1="721.5" x2="576" y2="721.5" stroke="#D9D9D9" stroke-width="1"/>
<text x="81" y="725" text-anchor="end" font-size="11.0" class="n">0.80</text>
<line x1="91.5" y1="880.5" x2="91.5" y2="931.3" stroke="#D9D9D9" stroke-width="1"/>
<line x1="136.5" y1="880.5" x2="136.5" y2="931.3" stroke="#D9D9D9" stroke-width="1"/>
<line x1="173.5" y1="880.5" x2="173.5" y2="931.3" stroke="#D9D9D9" stroke-width="1"/>
<line x1="209.5" y1="880.5" x2="209.5" y2="931.3" stroke="#D9D9D9" stroke-width="1"/>
<line x1="255.5" y1="880.5" x2="255.5" y2="931.3" stroke="#D9D9D9" stroke-width="1"/>
<line x1="292.5" y1="880.5" x2="292.5" y2="931.3" stroke="#D9D9D9" stroke-width="1"/>
<line x1="328.5" y1="880.5" x2="328.5" y2="931.3" stroke="#D9D9D9" stroke-width="1"/>
<line x1="374.5" y1="880.5" x2="374.5" y2="931.3" stroke="#D9D9D9" stroke-width="1"/>
<line x1="410.5" y1="880.5" x2="410.5" y2="931.3" stroke="#D9D9D9" stroke-width="1"/>
<line x1="456.5" y1="880.5" x2="456.5" y2="931.3" stroke="#D9D9D9" stroke-width="1"/>
<line x1="493.5" y1="880.5" x2="493.5" y2="931.3" stroke="#D9D9D9" stroke-width="1"/>
<line x1="529.5" y1="880.5" x2="529.5" y2="931.3" stroke="#D9D9D9" stroke-width="1"/>
<line x1="575.5" y1="880.5" x2="575.5" y2="931.3" stroke="#D9D9D9" stroke-width="1"/>
<text x="96.07" y="899.1" text-anchor="middle" font-size="11.0">1</text>
<text x="114.33" y="899.1" text-anchor="middle" font-size="11.0">3</text>
<text x="132.59" y="899.1" text-anchor="middle" font-size="11.0">5</text>
<text x="150.86" y="899.1" text-anchor="middle" font-size="11.0">7</text>
<text x="169.12" y="899.1" text-anchor="middle" font-size="11.0">9</text>
<text x="187.39" y="899.1" text-anchor="middle" font-size="11.0">11</text>
<text x="205.65" y="899.1" text-anchor="middle" font-size="11.0">13</text>
<text x="223.92" y="899.1" text-anchor="middle" font-size="11.0">15</text>
<text x="242.18" y="899.1" text-anchor="middle" font-size="11.0">17</text>
<text x="260.44" y="899.1" text-anchor="middle" font-size="11.0">19</text>
<text x="278.71" y="899.1" text-anchor="middle" font-size="11.0">21</text>
<text x="296.97" y="899.1" text-anchor="middle" font-size="11.0">23</text>
<text x="315.24" y="899.1" text-anchor="middle" font-size="11.0">25</text>
<text x="333.5" y="899.1" text-anchor="middle" font-size="11.0">27</text>
<text x="351.76" y="899.1" text-anchor="middle" font-size="11.0">29</text>
<text x="370.03" y="899.1" text-anchor="middle" font-size="11.0">31</text>
<text x="388.29" y="899.1" text-anchor="middle" font-size="11.0">33</text>
<text x="406.56" y="899.1" text-anchor="middle" font-size="11.0">35</text>
<text x="424.82" y="899.1" text-anchor="middle" font-size="11.0">37</text>
<text x="443.08" y="899.1" text-anchor="middle" font-size="11.0">39</text>
<text x="461.35" y="899.1" text-anchor="middle" font-size="11.0">41</text>
<text x="479.61" y="899.1" text-anchor="middle" font-size="11.0">43</text>
<text x="497.88" y="899.1" text-anchor="middle" font-size="11.0">45</text>
<text x="516.14" y="899.1" text-anchor="middle" font-size="11.0">47</text>
<text x="534.41" y="899.1" text-anchor="middle" font-size="11.0">49</text>
<text x="552.67" y="899.1" text-anchor="middle" font-size="11.0">51</text>
<text x="570.93" y="899.1" text-anchor="middle" font-size="11.0">53</text>
<text x="114.33" y="923.3" text-anchor="middle" font-size="11.0">1月</text>
<text x="155.42" y="923.3" text-anchor="middle" font-size="11.0">2月</text>
<text x="191.95" y="923.3" text-anchor="middle" font-size="11.0">3月</text>
<text x="233.05" y="923.3" text-anchor="middle" font-size="11.0">4月</text>
<text x="274.14" y="923.3" text-anchor="middle" font-size="11.0">5月</text>
<text x="310.67" y="923.3" text-anchor="middle" font-size="11.0">6月</text>
<text x="351.76" y="923.3" text-anchor="middle" font-size="11.0">7月</text>
<text x="392.86" y="923.3" text-anchor="middle" font-size="11.0">8月</text>
<text x="433.95" y="923.3" text-anchor="middle" font-size="11.0">9月</text>
<text x="475.05" y="923.3" text-anchor="middle" font-size="11.0">10月</text>
<text x="511.58" y="923.3" text-anchor="middle" font-size="11.0">11月</text>
<text x="552.67" y="923.3" text-anchor="middle" font-size="11.0">12月</text>
<text x="320.7" y="941.3" text-anchor="middle" font-size="12.0" class="a">疫学週</text>
<text transform="translate(46,800.9) rotate(-90)" text-anchor="middle" font-size="11.6" class="a">定点当たりの報告数</text>
<text x="297.1" y="688.5" text-anchor="middle" font-size="16.3" class="t">突発性発しん</text>
<polyline fill="none" stroke="#C900C9" stroke-width="3" stroke-linejoin="round" stroke-linecap="round" points="96.07,880.5 105.2,880.5 114.33,880.5 123.46,831 132.59,880.5 141.73,880.5 150.86,880.5 159.99,880.5 169.12,880.5 178.25,880.5 187.39,880.5 196.52,880.5 205.65,880.5 214.78,880.5 223.92,831 233.05,831 242.18,831 251.31,880.5 260.44,781.5 269.58,880.5 278.71,880.5 287.84,880.5 296.97,831 306.1,831 315.24,880.5 324.37,781.5 333.5,880.5 342.63,831 351.76,781.5 360.9,880.5 370.03,880.5 379.16,880.5 388.29,880.5 397.42,880.5 406.56,880.5 415.69,781.5 424.82,731.5 433.95,781.5 443.08,880.5 452.22,831 461.35,880.5 470.48,880.5"/><g fill="#CC00CC"><rect x="93" y="878" width="6" height="6"/><rect x="102" y="878" width="6" height="6"/><rect x="111" y="878" width="6" height="6"/><rect x="120" y="828" width="6" height="6"/><rect x="130" y="878" width="6" height="6"/><rect x="139" y="878" width="6" height="6"/><rect x="148" y="878" width="6" height="6"/><rect x="157" y="878" width="6" height="6"/><rect x="166" y="878" width="6" height="6"/><rect x="175" y="878" width="6" height="6"/><rect x="184" y="878" width="6" height="6"/><rect x="194" y="878" width="6" height="6"/><rect x="203" y="878" width="6" height="6"/><rect x="212" y="878" width="6" height="6"/><rect x="221" y="828" width="6" height="6"/><rect x="230" y="828" width="6" height="6"/><rect x="239" y="828" width="6" height="6"/><rect x="248" y="878" width="6" height="6"/><rect x="257" y="778" width="6" height="6"/><rect x="267" y="878" width="6" height="6"/><rect x="276" y="878" width="6" height="6"/><rect x="285" y="878" width="6" height="6"/><rect x="294" y="828" width="6" height="6"/><rect x="303" y="828" width="6" height="6"/><rect x="312" y="878" width="6" height="6"/><rect x="321" y="778" width="6" height="6"/><rect x="331" y="878" width="6" height="6"/><rect x="340" y="828" width="6" height="6"/><rect x="349" y="778" width="6" height="6"/><rect x="358" y="878" width="6" height="6"/><rect x="367" y="878" width="6" height="6"/><rect x="376" y="878" width="6" height="6"/><rect x="385" y="878" width="6" height="6"/><rect x="394" y="878" width="6" height="6"/><rect x="404" y="878" width="6" height="6"/><rect x="413" y="778" width="6" height="6"/><rect x="422" y="729" width="6" height="6"/><rect x="431" y="778" width="6" height="6"/><rect x="440" y="878" width="6" height="6"/><rect x="449" y="828" width="6" height="6"/><rect x="458" y="878" width="6" height="6"/><rect x="467" y="878" width="6" height="6"/></g>
<polyline fill="none" stroke="#86C93D" stroke-width="2" stroke-linejoin="round" stroke-linecap="round" points="96.07,872.5 105.2,836.7 114.33,840.5 123.46,834.8 132.59,842.5 141.73,842.5 150.86,852.5 159.99,846.5 169.12,846.5 178.25,838.6 187.39,836.7 196.52,858.5 205.65,838.6 214.78,836.7 223.92,815.5 233.05,831 242.18,797.5 251.31,815.5 260.44,823.4 269.58,815.5 278.71,809.5 287.84,807.5 296.97,815.5 306.1,799.5 315.24,809.5 324.37,811.5 333.5,809.5 342.63,795.5 351.76,823.4 360.9,803.5 370.03,817.5 379.16,815.5 388.29,827.2 397.42,801.5 406.56,831 415.69,815.5 424.82,813.5 433.95,817.5 443.08,831 452.22,815.5 461.35,813.5 470.48,825.3"/><g fill="#8FCF4A"><rect x="94" y="871" width="4" height="4"/><rect x="103" y="835" width="4" height="4"/><rect x="112" y="839" width="4" height="4"/><rect x="121" y="833" width="4" height="4"/><rect x="131" y="841" width="4" height="4"/><rect x="140" y="841" width="4" height="4"/><rect x="149" y="851" width="4" height="4"/><rect x="158" y="845" width="4" height="4"/><rect x="167" y="845" width="4" height="4"/><rect x="176" y="837" width="4" height="4"/><rect x="185" y="835" width="4" height="4"/><rect x="195" y="857" width="4" height="4"/><rect x="204" y="837" width="4" height="4"/><rect x="213" y="835" width="4" height="4"/><rect x="222" y="813" width="4" height="4"/><rect x="231" y="829" width="4" height="4"/><rect x="240" y="795" width="4" height="4"/><rect x="249" y="813" width="4" height="4"/><rect x="258" y="821" width="4" height="4"/><rect x="268" y="813" width="4" height="4"/><rect x="277" y="807" width="4" height="4"/><rect x="286" y="805" width="4" height="4"/><rect x="295" y="813" width="4" height="4"/><rect x="304" y="797" width="4" height="4"/><rect x="313" y="807" width="4" height="4"/><rect x="322" y="809" width="4" height="4"/><rect x="332" y="807" width="4" height="4"/><rect x="341" y="793" width="4" height="4"/><rect x="350" y="821" width="4" height="4"/><rect x="359" y="801" width="4" height="4"/><rect x="368" y="815" width="4" height="4"/><rect x="377" y="813" width="4" height="4"/><rect x="386" y="825" width="4" height="4"/><rect x="395" y="799" width="4" height="4"/><rect x="405" y="829" width="4" height="4"/><rect x="414" y="813" width="4" height="4"/><rect x="423" y="811" width="4" height="4"/><rect x="432" y="815" width="4" height="4"/><rect x="441" y="829" width="4" height="4"/><rect x="450" y="813" width="4" height="4"/><rect x="459" y="811" width="4" height="4"/><rect x="468" y="823" width="4" height="4"/></g>
<line x1="373.5" y1="714.5" x2="396.5" y2="714.5" stroke="#C900C9" stroke-width="3" stroke-linecap="round"/>
<rect x="382" y="711" width="6" height="6" fill="#CC00CC"/>
<text x="399.4" y="717" font-size="11.0">2025渋谷区</text>
<line x1="476.5" y1="714" x2="499.4" y2="714" stroke="#86C93D" stroke-width="2" stroke-linecap="round"/>
<rect x="486" y="712" width="4" height="4" fill="#8FCF4A"/>
<text x="502.2" y="717" font-size="11.0">2025東京都</text>
<rect x="481.5" y="752.5" width="96" height="72" fill="#fff" stroke="#BFBFBF" stroke-width="1"/>
<text x="489.7" y="769.1" font-size="11.0">2025年第42週</text>
<text x="489.7" y="790" font-size="10.6">渋谷区</text>
<text x="531.6" y="790" font-size="11.0" class="v">0.00</text>
<text x="489.7" y="809.8" font-size="10.6">東京都</text>
<text x="531.6" y="809.8" font-size="11.0" class="v">0.28</text></g>
<g><rect x="625.5" y="659.5" width="586" height="299" fill="#fff" stroke="#D9D9D9" stroke-width="1"/>
<line x1="710" y1="882.5" x2="1195" y2="882.5" stroke="#D9D9D9" stroke-width="1"/>
<text x="700" y="886" text-anchor="end" font-size="11.0" class="n">0.00</text>
<line x1="710" y1="850.5" x2="1195" y2="850.5" stroke="#D9D9D9" stroke-width="1"/>
<text x="700" y="854" text-anchor="end" font-size="11.0" class="n">0.50</text>
<line x1="710" y1="818.5" x2="1195" y2="818.5" stroke="#D9D9D9" stroke-width="1"/>
<text x="700" y="822" text-anchor="end" font-size="11.0" class="n">1.00</text>
<line x1="710" y1="786.5" x2="1195" y2="786.5" stroke="#D9D9D9" stroke-width="1"/>
<text x="700" y="790" text-anchor="end" font-size="11.0" class="n">1.50</text>
<line x1="710" y1="755.5" x2="1195" y2="755.5" stroke="#D9D9D9" stroke-width="1"/>
<text x="700" y="759" text-anchor="end" font-size="11.0" class="n">2.00</text>
<line x1="710" y1="723.5" x2="1195" y2="723.5" stroke="#D9D9D9" stroke-width="1"/>
<text x="700" y="727" text-anchor="end" font-size="11.0" class="n">2.50</text>
<line x1="710.5" y1="882.5" x2="710.5" y2="933.3" stroke="#D9D9D9" stroke-width="1"/>
<line x1="755.5" y1="882.5" x2="755.5" y2="933.3" stroke="#D9D9D9" stroke-width="1"/>
<line x1="792.5" y1="882.5" x2="792.5" y2="933.3" stroke="#D9D9D9" stroke-width="1"/>
<line x1="828.5" y1="882.5" x2="828.5" y2="933.3" stroke="#D9D9D9" stroke-width="1"/>
<line x1="874.5" y1="882.5" x2="874.5" y2="933.3" stroke="#D9D9D9" stroke-width="1"/>
<line x1="911.5" y1="882.5" x2="911.5" y2="933.3" stroke="#D9D9D9" stroke-width="1"/>
<line x1="947.5" y1="882.5" x2="947.5" y2="933.3" stroke="#D9D9D9" stroke-width="1"/>
<line x1="993.5" y1="882.5" x2="993.5" y2="933.3" stroke="#D9D9D9" stroke-width="1"/>
<line x1="1029.5" y1="882.5" x2="1029.5" y2="933.3" stroke="#D9D9D9" stroke-width="1"/>
<line x1="1075.5" y1="882.5" x2="1075.5" y2="933.3" stroke="#D9D9D9" stroke-width="1"/>
<line x1="1112.5" y1="882.5" x2="1112.5" y2="933.3" stroke="#D9D9D9" stroke-width="1"/>
<line x1="1148.5" y1="882.5" x2="1148.5" y2="933.3" stroke="#D9D9D9" stroke-width="1"/>
<line x1="1194.5" y1="882.5" x2="1194.5" y2="933.3" stroke="#D9D9D9" stroke-width="1"/>
<text x="715.07" y="901.1" text-anchor="middle" font-size="11.0">1</text>
<text x="733.33" y="901.1" text-anchor="middle" font-size="11.0">3</text>
<text x="751.59" y="901.1" text-anchor="middle" font-size="11.0">5</text>
<text x="769.86" y="901.1" text-anchor="middle" font-size="11.0">7</text>
<text x="788.12" y="901.1" text-anchor="middle" font-size="11.0">9</text>
<text x="806.39" y="901.1" text-anchor="middle" font-size="11.0">11</text>
<text x="824.65" y="901.1" text-anchor="middle" font-size="11.0">13</text>
<text x="842.92" y="901.1" text-anchor="middle" font-size="11.0">15</text>
<text x="861.18" y="901.1" text-anchor="middle" font-size="11.0">17</text>
<text x="879.44" y="901.1" text-anchor="middle" font-size="11.0">19</text>
<text x="897.71" y="901.1" text-anchor="middle" font-size="11.0">21</text>
<text x="915.97" y="901.1" text-anchor="middle" font-size="11.0">23</text>
<text x="934.24" y="901.1" text-anchor="middle" font-size="11.0">25</text>
<text x="952.5" y="901.1" text-anchor="middle" font-size="11.0">27</text>
<text x="970.76" y="901.1" text-anchor="middle" font-size="11.0">29</text>
<text x="989.03" y="901.1" text-anchor="middle" font-size="11.0">31</text>
<text x="1007.29" y="901.1" text-anchor="middle" font-size="11.0">33</text>
<text x="1025.56" y="901.1" text-anchor="middle" font-size="11.0">35</text>
<text x="1043.82" y="901.1" text-anchor="middle" font-size="11.0">37</text>
<text x="1062.08" y="901.1" text-anchor="middle" font-size="11.0">39</text>
<text x="1080.35" y="901.1" text-anchor="middle" font-size="11.0">41</text>
<text x="1098.61" y="901.1" text-anchor="middle" font-size="11.0">43</text>
<text x="1116.88" y="901.1" text-anchor="middle" font-size="11.0">45</text>
<text x="1135.14" y="901.1" text-anchor="middle" font-size="11.0">47</text>
<text x="1153.41" y="901.1" text-anchor="middle" font-size="11.0">49</text>
<text x="1171.67" y="901.1" text-anchor="middle" font-size="11.0">51</text>
<text x="1189.93" y="901.1" text-anchor="middle" font-size="11.0">53</text>
<text x="733.33" y="925.3" text-anchor="middle" font-size="11.0">1月</text>
<text x="774.42" y="925.3" text-anchor="middle" font-size="11.0">2月</text>
<text x="810.95" y="925.3" text-anchor="middle" font-size="11.0">3月</text>
<text x="852.05" y="925.3" text-anchor="middle" font-size="11.0">4月</text>
<text x="893.14" y="925.3" text-anchor="middle" font-size="11.0">5月</text>
<text x="929.67" y="925.3" text-anchor="middle" font-size="11.0">6月</text>
<text x="970.76" y="925.3" text-anchor="middle" font-size="11.0">7月</text>
<text x="1011.86" y="925.3" text-anchor="middle" font-size="11.0">8月</text>
<text x="1052.95" y="925.3" text-anchor="middle" font-size="11.0">9月</text>
<text x="1094.05" y="925.3" text-anchor="middle" font-size="11.0">10月</text>
<text x="1130.58" y="925.3" text-anchor="middle" font-size="11.0">11月</text>
<text x="1171.67" y="925.3" text-anchor="middle" font-size="11.0">12月</text>
<text x="934.5" y="941.6" text-anchor="middle" font-size="12.0" class="a">疫学週</text>
<text transform="translate(664.4,802.2) rotate(-90)" text-anchor="middle" font-size="11.6" class="a">定点当たりの報告数</text>
<text x="916" y="689.6" text-anchor="middle" font-size="16.3" class="t">ヘルパンギーナ</text>
<polyline fill="none" stroke="#C900C9" stroke-width="3" stroke-linejoin="round" stroke-linecap="round" points="715.07,882.5 724.2,882.5 733.33,882.5 742.46,882.5 751.59,882.5 760.73,882.5 769.86,882.5 778.99,882.5 788.12,882.5 797.25,882.5 806.39,882.5 815.52,882.5 824.65,882.5 833.78,882.5 842.92,882.5 852.05,882.5 861.18,882.5 870.31,882.5 879.44,882.5 888.58,882.5 897.71,882.5 906.84,882.5 915.97,882.5 925.1,882.5 934.24,866.5 943.37,802.5 952.5,818.5 961.63,834.5 970.76,850.5 979.9,834.5 989.03,850.5 998.16,834.5 1007.29,882.5 1016.42,882.5 1025.56,818.5 1034.69,786.5 1043.82,834.5 1052.95,882.5 1062.08,882.5 1071.22,850.5 1080.35,882.5 1089.48,882.5"/><g fill="#CC00CC"><rect x="712" y="880" width="6" height="6"/><rect x="721" y="880" width="6" height="6"/><rect x="730" y="880" width="6" height="6"/><rect x="739" y="880" width="6" height="6"/><rect x="749" y="880" width="6" height="6"/><rect x="758" y="880" width="6" height="6"/><rect x="767" y="880" width="6" height="6"/><rect x="776" y="880" width="6" height="6"/><rect x="785" y="880" width="6" height="6"/><rect x="794" y="880" width="6" height="6"/><rect x="803" y="880" width="6" height="6"/><rect x="813" y="880" width="6" height="6"/><rect x="822" y="880" width="6" height="6"/><rect x="831" y="880" width="6" height="6"/><rect x="840" y="880" width="6" height="6"/><rect x="849" y="880" width="6" height="6"/><rect x="858" y="880" width="6" height="6"/><rect x="867" y="880" width="6" height="6"/><rect x="876" y="880" width="6" height="6"/><rect x="886" y="880" width="6" height="6"/><rect x="895" y="880" width="6" height="6"/><rect x="904" y="880" width="6" height="6"/><rect x="913" y="880" width="6" height="6"/><rect x="922" y="880" width="6" height="6"/><rect x="931" y="864" width="6" height="6"/><rect x="940" y="800" width="6" height="6"/><rect x="950" y="816" width="6" height="6"/><rect x="959" y="832" width="6" height="6"/><rect x="968" y="848" width="6" height="6"/><rect x="977" y="832" width="6" height="6"/><rect x="986" y="848" width="6" height="6"/><rect x="995" y="832" width="6" height="6"/><rect x="1004" y="880" width="6" height="6"/><rect x="1013" y="880" width="6" height="6"/><rect x="1023" y="816" width="6" height="6"/><rect x="1032" y="784" width="6" height="6"/><rect x="1041" y="832" width="6" height="6"/><rect x="1050" y="880" width="6" height="6"/><rect x="1059" y="880" width="6" height="6"/><rect x="1068" y="848" width="6" height="6"/><rect x="1077" y="880" width="6" height="6"/><rect x="1086" y="880" width="6" height="6"/></g>
<polyline fill="none" stroke="#86C93D" stroke-width="2" stroke-linejoin="round" stroke-linecap="round" points="715.07,882.5 724.2,881.86 733.33,881.86 742.46,881.86 751.59,881.86 760.73,881.86 769.86,881.86 778.99,881.86 788.12,881.86 797.25,881.86 806.39,881.22 815.52,882.18 824.65,882.18 833.78,882.18 842.92,881.22 852.05,882.18 861.18,882.18 870.31,881.22 879.44,880.9 888.58,880.13 897.71,879.3 906.84,878.02 915.97,874.18 925.1,877.06 934.24,866.82 943.37,850.5 952.5,831.62 961.63,824.45 970.76,806.34 979.9,791.62 989.03,764.18 998.16,747.18 1007.29,829.38 1016.42,785.51 1025.56,785.51 1034.69,792.26 1043.82,798.66 1052.95,818.5 1062.08,826.63 1071.22,831.62 1080.35,843.65 1089.48,865.22"/><g fill="#8FCF4A"><rect x="713" y="881" width="4" height="4"/><rect x="722" y="880" width="4" height="4"/><rect x="731" y="880" width="4" height="4"/><rect x="740" y="880" width="4" height="4"/><rect x="750" y="880" width="4" height="4"/><rect x="759" y="880" width="4" height="4"/><rect x="768" y="880" width="4" height="4"/><rect x="777" y="880" width="4" height="4"/><rect x="786" y="880" width="4" height="4"/><rect x="795" y="880" width="4" height="4"/><rect x="804" y="879" width="4" height="4"/><rect x="814" y="880" width="4" height="4"/><rect x="823" y="880" width="4" height="4"/><rect x="832" y="880" width="4" height="4"/><rect x="841" y="879" width="4" height="4"/><rect x="850" y="880" width="4" height="4"/><rect x="859" y="880" width="4" height="4"/><rect x="868" y="879" width="4" height="4"/><rect x="877" y="879" width="4" height="4"/><rect x="887" y="878" width="4" height="4"/><rect x="896" y="877" width="4" height="4"/><rect x="905" y="876" width="4" height="4"/><rect x="914" y="872" width="4" height="4"/><rect x="923" y="875" width="4" height="4"/><rect x="932" y="865" width="4" height="4"/><rect x="941" y="849" width="4" height="4"/><rect x="951" y="830" width="4" height="4"/><rect x="960" y="823" width="4" height="4"/><rect x="969" y="805" width="4" height="4"/><rect x="978" y="790" width="4" height="4"/><rect x="987" y="762" width="4" height="4"/><rect x="996" y="745" width="4" height="4"/><rect x="1005" y="828" width="4" height="4"/><rect x="1014" y="784" width="4" height="4"/><rect x="1024" y="784" width="4" height="4"/><rect x="1033" y="791" width="4" height="4"/><rect x="1042" y="797" width="4" height="4"/><rect x="1051" y="817" width="4" height="4"/><rect x="1060" y="825" width="4" height="4"/><rect x="1069" y="830" width="4" height="4"/><rect x="1078" y="842" width="4" height="4"/><rect x="1087" y="863" width="4" height="4"/></g>
<line x1="992.5" y1="714.5" x2="1015.5" y2="714.5" stroke="#C900C9" stroke-width="3" stroke-linecap="round"/>
<rect x="1001" y="711" width="6" height="6" fill="#CC00CC"/>
<text x="1018.2" y="718" font-size="11.0">2025渋谷区</text>
<line x1="1092.5" y1="715" x2="1115.4" y2="715" stroke="#86C93D" stroke-width="2" stroke-linecap="round"/>
<rect x="1101" y="712" width="4" height="4" fill="#8FCF4A"/>
<text x="1117.9" y="718" font-size="11.0">2025東京都</text>
<rect x="1086.5" y="754.5" width="103" height="71" fill="#fff" stroke="#BFBFBF" stroke-width="1"/>
<text x="1094.1" y="770.6" font-size="11.0">2025年第42週</text>
<text x="1094.1" y="792.4" font-size="10.6">渋谷区</text>
<text x="1136.2" y="792.4" font-size="11.0" class="v">0.00</text>
<text x="1094.1" y="812.1" font-size="10.6">東京都</text>
<text x="1136.2" y="812.1" font-size="11.0" class="v">0.27</text></g>
</svg>
</body>
</html>
